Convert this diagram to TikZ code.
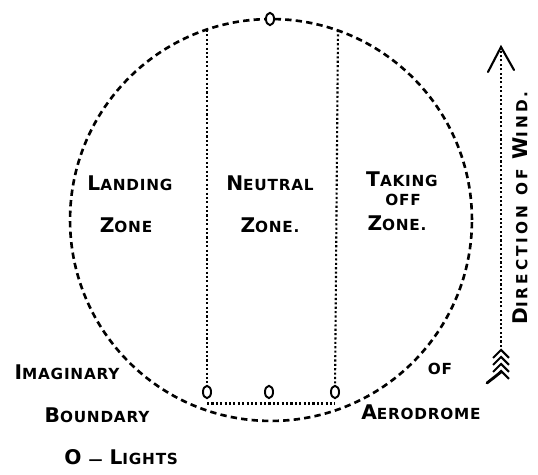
\documentclass[tikz,border=0pt]{standalone}
\usepackage{fontspec}
\usepackage{tikz}
\usetikzlibrary{shapes.geometric}
\setmainfont{DejaVu Sans}[BoldFont={DejaVu Sans Bold}]
\newfontfamily\zonefont[LetterSpace=5]{DejaVu Sans Bold}
\newfontfamily\windfont[LetterSpace=20]{DejaVu Sans Bold}
% big first letter, smaller capitals after it
\newcommand\scword[2]{{\fontsize{11.5}{11.5}\selectfont #1}{\fontsize{8.7}{8.7}\selectfont #2}}

\begin{document}
\begin{tikzpicture}[
  x=0.02cm, y=-0.02cm,
  edge/.style={line width=1.5pt,dash pattern=on 3.6pt off 2.4pt},
  dotline/.style={line width=1.2pt,dash pattern=on 1.2pt off 1.3pt},
  light/.style={ellipse,draw,fill=white,line width=1.1pt,inner sep=0pt,
    minimum width=4.6pt,minimum height=7pt},
  lbl/.style={font=\zonefont,inner sep=0pt,align=center},
  feather/.style={line width=1.2pt}
]
  \useasboundingbox (0,0) rectangle (538,475);

  % boundary of the aerodrome
  \node[circle,draw,edge,minimum size=8.04cm,inner sep=0pt,outer sep=0pt] (aero) at (271,220) {};

  % lights
  \node[light] (l0) at (270,19) {};
  \node[light] (l1) at (207,392) {};
  \node[light] (l2) at (269,392) {};
  \node[light] (l3) at (335,392) {};

  % zone limits
  \coordinate (lt) at (207,30);
  \coordinate (rt) at (338,30);
  \draw[dotline] (lt) -- (l1);
  \draw[dotline] (rt) -- (l3);
  \draw[dotline] ([yshift=-2.5pt]l1.south) -- ([yshift=-2.5pt]l3.south);

  % wind arrow
  \coordinate (wtail) at (501,347);
  \coordinate (wtip) at (501,47);
  \draw[dotline,line width=1pt] (wtail) -- ([yshift=-2pt]wtip);
  \draw[line width=1.2pt,line cap=round,line join=miter] (wtip) ++(-13,25) -- (wtip) -- ++(13,23);
  \foreach \fy in {350,357,364,371}
    \draw[feather] (493,\fy+8) -- (501,\fy) -- (509,\fy+8);
  \draw[feather,line width=1.6pt,line cap=round] (501,372) -- (487,383);

  % labels
  \node[lbl] (landing) at (130,183) {\scword{L}{ANDING}};
  \node[lbl] (zone1) at (126,225) {\scword{Z}{ONE}};
  \node[lbl] (neutral) at (270,183) {\scword{N}{EUTRAL}};
  \node[lbl] (zone2) at (270,225) {\scword{Z}{ONE.}};
  \node[lbl] (taking) at (402,179) {\scword{T}{AKING}};
  \node[lbl] (off) at (403,200) {\scword{}{OFF}};
  \node[lbl] (zone3) at (397,223) {\scword{Z}{ONE.}};
  \node[lbl] (imag) at (67,372) {\scword{I}{MAGINARY}};
  \node[lbl] (bound) at (97,415) {\scword{B}{OUNDARY}};
  \node[lbl] (of) at (440,369) {\scword{}{OF}};
  \node[lbl] (aerod) at (421,412) {\scword{A}{ERODROME}};
  \node[lbl,anchor=west] (lights) at (64,457) {\scword{O}{} {\fontsize{8}{8}\selectfont —} \scword{L}{IGHTS}};
  \node[lbl,font=\windfont,rotate=90] (wind) at (520,208) {\scword{D}{IRECTION} \scword{}{OF} \scword{W}{IND.}};
\end{tikzpicture}
\end{document}
